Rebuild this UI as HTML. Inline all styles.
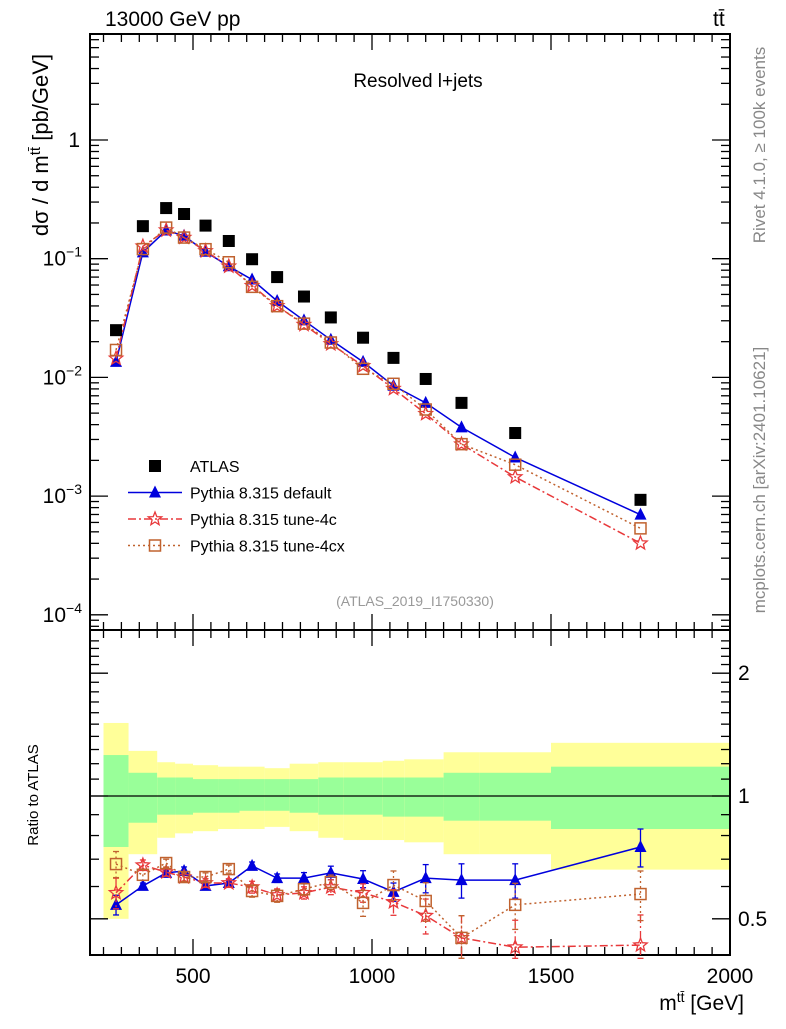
<!DOCTYPE html>
<html><head><meta charset="utf-8"><style>
body{margin:0;background:#fff}
svg{font-family:"Liberation Sans",sans-serif}
</style></head><body>
<svg id="c" width="786" height="1024" viewBox="0 0 786 1024" xmlns="http://www.w3.org/2000/svg">
<text x="105" y="26" font-size="21">13000 GeV pp</text>
<text x="713" y="26" font-size="21">tt̄</text>
<text x="418" y="87" font-size="19" text-anchor="middle">Resolved l+jets</text>
<text x="415" y="606" font-size="14" fill="#999" text-anchor="middle">(ATLAS_2019_I1750330)</text>
<text transform="translate(765,145) rotate(-90)" font-size="17" fill="#888" text-anchor="middle">Rivet 4.1.0, ≥ 100k events</text>
<text transform="translate(765,480) rotate(-90)" font-size="17" fill="#888" text-anchor="middle">mcplots.cern.ch [arXiv:2401.10621]</text>
<text transform="translate(48,145) rotate(-90)" font-size="22" text-anchor="middle">dσ / d m<tspan dy="-8" font-size="15">tt̄</tspan><tspan dy="8"> [pb/GeV]</tspan></text>
<text transform="translate(38,795) rotate(-90)" font-size="15" text-anchor="middle">Ratio to ATLAS</text>
<text x="744" y="1010" font-size="21" text-anchor="end">m<tspan dy="-8" font-size="14">tt̄</tspan><tspan dy="8"> [GeV]</tspan></text>
<g id="g"></g>
</svg>
<script>
const centers=[285,360,425,475,535,600,665,735,810,885,975,1060,1150,1250,1400,1750];
const edges=[250,320,400,450,500,570,630,700,770,850,920,1030,1090,1200,1300,1500,2000];
const atlas=[0.025,0.188,0.267,0.238,0.19,0.141,0.099,0.07,0.048,0.032,0.0216,0.0146,0.0097,0.0061,0.0034,0.00093];
const ratioDefault=[0.541,0.602,0.648,0.655,0.602,0.612,0.674,0.629,0.629,0.648,0.626,0.582,0.629,0.622,0.622,0.75];
const ratio4c=[0.579,0.677,0.651,0.633,0.612,0.612,0.598,0.572,0.579,0.598,0.579,0.55,0.509,0.449,0.426,0.431];
const ratio4cx=[0.681,0.641,0.685,0.633,0.633,0.662,0.585,0.569,0.591,0.615,0.547,0.605,0.553,0.449,0.541,0.575];
const errDefault=[0.03,0.01,0.01,0.015,0.01,0.01,0.015,0.015,0.02,0.025,0.03,0.03,0.05,0.06,0.06,0.08];
const err4c=[0.05,0.02,0.015,0.015,0.015,0.015,0.02,0.02,0.02,0.025,0.03,0.04,0.05,0.06,0.07,0.08];
const err4cx=[0.05,0.02,0.015,0.015,0.015,0.015,0.02,0.02,0.02,0.025,0.04,0.05,0.06,0.06,0.07,0.08];
const yelHi=[1.51,1.29,1.21,1.20,1.19,1.18,1.18,1.17,1.20,1.21,1.21,1.22,1.23,1.28,1.28,1.35];
const grnHi=[1.26,1.14,1.11,1.11,1.10,1.10,1.10,1.10,1.10,1.11,1.11,1.11,1.11,1.14,1.14,1.18];
const grnLo=[0.75,0.86,0.90,0.90,0.91,0.91,0.92,0.92,0.91,0.90,0.90,0.89,0.89,0.87,0.87,0.83];
const yelLo=[0.50,0.72,0.79,0.81,0.82,0.83,0.83,0.84,0.82,0.79,0.78,0.78,0.77,0.72,0.72,0.66];
const xTicks=[500,1000,1500,2000];
const yTicks=[-4,-3,-2,-1,0];
const rTicks=[0.5,1,2];

const NS="http://www.w3.org/2000/svg",G=document.getElementById('g');
const L=90,R=730,T=34,MB=630,RB=955;
const X=v=>193+(v-500)*0.358;
const Y=v=>140-Math.log10(v)*118.7;
const RY=v=>796-Math.log10(v)*408;
function el(t,a,p){const e=document.createElementNS(NS,t);for(const k in a)e.setAttribute(k,a[k]);(p||G).appendChild(e);return e;}
function rc(v){return Math.min(Math.max(v,0.4),2.5);}

for(let i=0;i<centers.length;i++){
  const x0=Math.max(X(edges[i]),L),x1=X(edges[i+1]);
  let e=el('rect',{x:x0,y:RY(yelHi[i]),width:x1-x0,height:RY(yelLo[i])-RY(yelHi[i]),fill:'#ffff99'});
  
  
  e=el('rect',{x:x0,y:RY(grnHi[i]),width:x1-x0,height:RY(grnLo[i])-RY(grnHi[i]),fill:'#99ff99'});
  
  
}
let ln=el('line',{x1:L,x2:R,y1:RY(1),y2:RY(1),stroke:'#000','stroke-width':1.2});



for(const [y0,y1,nm] of [[T,MB,'main-frame'],[MB,RB,'ratio-frame']]){
  const f=el('rect',{x:L,y:y0,width:R-L,height:y1-y0,fill:'none',stroke:'#000','stroke-width':2});
  
  
}
for(let v=250;v<=2000;v+=50){
  const x=X(v);if(x<L)continue;
  const big=v%500===0,h=big?16:8;
  for(const [yb,dir] of [[T,1],[MB,-1],[MB,1],[RB,-1]])
    el('line',{x1:x,x2:x,y1:yb,y2:yb+dir*h,stroke:'#000','stroke-width':1.3});
}
xTicks.forEach(v=>{const t=el('text',{x:X(v),y:983,'font-size':21,'text-anchor':'middle'});t.textContent=v;

});
for(let d=-5;d<=0;d++)for(let m=1;m<10;m++){
  const y=Y(m*Math.pow(10,d));if(y<T||y>MB)continue;
  const h=m===1?18:9;
  el('line',{x1:L,x2:L+h,y1:y,y2:y,stroke:'#000','stroke-width':1.3});
  el('line',{x1:R,x2:R-h,y1:y,y2:y,stroke:'#000','stroke-width':1.3});
}
yTicks.forEach(d=>{const t=el('text',{x:d===0?80:82,y:Y(Math.pow(10,d))+7,'font-size':21,'text-anchor':'end'});
if(d===0)t.textContent='1';else{t.textContent='10';const s=el('tspan',{dy:-9,'font-size':14},t);s.textContent=String(d).replace('-','−');}

});
for(let v=0.4;v<=2.5;v+=0.1){
  const y=RY(v);if(y<MB||y>RB)continue;
  const big=[0.5,1,2].some(b=>Math.abs(b-v)<1e-6),h=big?18:9;
  el('line',{x1:L,x2:L+h,y1:y,y2:y,stroke:'#000','stroke-width':1.3});
  el('line',{x1:R,x2:R-h,y1:y,y2:y,stroke:'#000','stroke-width':1.3});
}
rTicks.forEach(v=>{const t=el('text',{x:738,y:RY(v)+7,'font-size':21});t.textContent=v;

});

function marker(type,x,y,col,g){
  if(type==='sq')return el('rect',{x:x-6,y:y-6,width:12,height:12,fill:'#000'},g);
  if(type==='tri')return el('polygon',{points:`${x},${y-7} ${x-6},${y+5} ${x+6},${y+5}`,fill:col},g);
  if(type==='star'){let p=[];for(let k=0;k<10;k++){const r=k%2?3:7,a=-Math.PI/2+k*Math.PI/5;p.push((x+r*Math.cos(a)).toFixed(1)+','+(y+r*Math.sin(a)).toFixed(1));}
    return el('polygon',{points:p.join(' '),fill:'none',stroke:col,'stroke-width':1.3},g);}
  return el('rect',{x:x-5.5,y:y-5.5,width:11,height:11,fill:'none',stroke:col,'stroke-width':1.5},g);
}
const series=[
 {r:ratioDefault,e:errDefault,col:'#0000dd',type:'tri',dash:'',name:'pythia-default'},
 {r:ratio4c,e:err4c,col:'#e8393b',type:'star',dash:'8,3,2,3',name:'pythia-tune-4c'},
 {r:ratio4cx,e:err4cx,col:'#c0622f',type:'box',dash:'2,3',name:'pythia-tune-4cx'}];
series.forEach(s=>{
  const g=el('g',{});
  
  
  const pm=centers.map((c,i)=>X(c)+','+Y(atlas[i]*s.r[i])).join(' ');
  el('polyline',{points:pm,fill:'none',stroke:s.col,'stroke-width':1.5,'stroke-dasharray':s.dash},g);
  const pr=centers.map((c,i)=>X(c)+','+RY(rc(s.r[i]))).join(' ');
  el('polyline',{points:pr,fill:'none',stroke:s.col,'stroke-width':1.5,'stroke-dasharray':s.dash},g);
  centers.forEach((c,i)=>{
    const x=X(c);
    const y1=RY(rc(s.r[i]+s.e[i])),y2=RY(rc(s.r[i]-s.e[i]));
    el('line',{x1:x,x2:x,y1:y1,y2:y2,stroke:s.col,'stroke-width':1.3,'stroke-dasharray':s.dash},g);
    el('line',{x1:x-3,x2:x+3,y1:y1,y2:y1,stroke:s.col,'stroke-width':1.3},g);
    el('line',{x1:x-3,x2:x+3,y1:y2,y2:y2,stroke:s.col,'stroke-width':1.3},g);
    const m=marker(s.type,x,Y(atlas[i]*s.r[i]),s.col,g);
    
    
    const m2=marker(s.type,x,RY(rc(s.r[i])),s.col,g);
    
    
  });
});
centers.forEach((c,i)=>{const m=marker('sq',X(c),Y(atlas[i]));

});

const leg=[['sq','#000','','ATLAS'],['tri','#0000dd','','Pythia 8.315 default'],['star','#e8393b','8,3,2,3','Pythia 8.315 tune-4c'],['box','#c0622f','2,3','Pythia 8.315 tune-4cx']];
leg.forEach((l,i)=>{
  const y=466+i*26.5;
  const g=el('g',{});
  
  
  if(i>0)el('line',{x1:128,x2:182,y1:y,y2:y,stroke:l[1],'stroke-width':1.5,'stroke-dasharray':l[2]},g);
  marker(l[0],155,y,l[1],g);
  const t=el('text',{x:190,y:y+6,'font-size':16},g);t.textContent=l[3];
});
</script>
</body></html>
